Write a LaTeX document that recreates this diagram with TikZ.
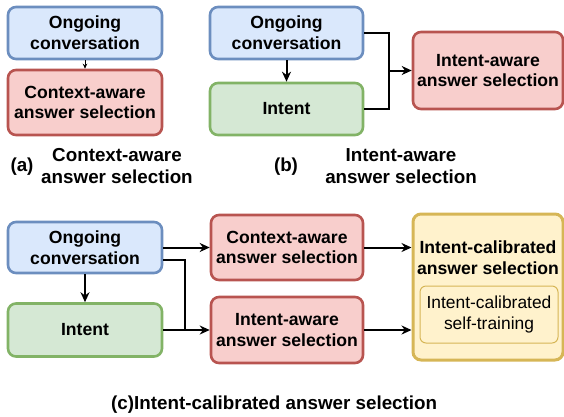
\documentclass[tikz,border=0pt]{standalone}
\usepackage{fontspec}
\setmainfont{Liberation Sans}
\usetikzlibrary{arrows.meta}
\definecolor{bfill}{HTML}{DAE8FC}\definecolor{bdraw}{HTML}{6C8EBF}
\definecolor{rfill}{HTML}{F8CECC}\definecolor{rdraw}{HTML}{B85450}
\definecolor{gfill}{HTML}{D5E8D4}\definecolor{gdraw}{HTML}{82B366}
\definecolor{yfill}{HTML}{FFF2CC}\definecolor{ydraw}{HTML}{D6B656}
\begin{document}
\begin{tikzpicture}[x=1pt,y=-1pt,
  box/.style={rounded corners=8pt,line width=2.6pt,align=center,inner sep=0pt,
    font=\fontsize{17.6}{20.8}\selectfont\bfseries},
  bluebox/.style={box,fill=bfill,draw=bdraw},
  redbox/.style={box,fill=rfill,draw=rdraw},
  greenbox/.style={box,fill=gfill,draw=gdraw},
  yellowbox/.style={box,fill=yfill,draw=ydraw,line width=3pt},
  innerbox/.style={rounded corners=6pt,line width=1pt,fill=yfill,draw=ydraw,align=center,
    inner sep=0pt,font=\fontsize{17.4}{20.5}\selectfont},
  captxt/.style={align=center,inner sep=0pt,font=\fontsize{18.8}{22.5}\selectfont\bfseries},
  arr/.style={line width=2pt,-{Stealth[length=10pt,width=9pt]}},
  ln/.style={line width=2pt},
  sarr/.style={line width=1pt,-{Stealth[length=5pt,width=4.5pt]}}]
\useasboundingbox (0,0) rectangle (564,416);
% (a)
\node[bluebox,minimum width=154pt,minimum height=52pt] (a1) at (85,33) {Ongoing\\conversation};
\node[redbox,minimum width=154pt,minimum height=65pt] (a2) at (85,102.5) {Context-aware\\answer selection};
\draw[sarr] (a1) -- (a2);
\node[captxt] (al) at (22,167) {(a)};
\node[captxt] (at) at (117,166) {Context-aware\\answer selection};
% (b)
\node[bluebox,minimum width=153pt,minimum height=52pt] (b1) at (286.5,33) {Ongoing\\conversation};
\node[greenbox,minimum width=153pt,minimum height=52pt] (b2) at (286.5,109) {Intent};
\node[redbox,minimum width=150pt,minimum height=77pt] (b3) at (488,70.5) {Intent-aware\\answer selection};
\coordinate (bj) at (389,70.5);
\draw[arr] (b1) -- (b2);
\draw[ln] (b1.east) -| (bj) |- (b2.east);
\draw[arr] (bj) -- (b3.west);
\node[captxt] (bl) at (286,167) {(b)};
\node[captxt] (bt) at (401,166) {Intent-aware\\answer selection};
% (c)
\node[bluebox,minimum width=154pt,minimum height=51pt] (c1) at (85,247.5) {Ongoing\\conversation};
\node[greenbox,minimum width=154pt,minimum height=53pt] (c2) at (85,330) {Intent};
\node[redbox,minimum width=152pt,minimum height=65pt] (c3) at (287,247.5) {Context-aware\\answer selection};
\node[redbox,minimum width=152pt,minimum height=66pt] (c4) at (287,330) {Intent-aware\\answer selection};
\node[yellowbox,minimum width=150pt,minimum height=146pt] (c5) at (488,287) {};
\node[box] (c5t) at (488,258) {Intent-calibrated\\answer selection};
\node[innerbox,minimum width=138pt,minimum height=57pt] (c6) at (489,314.5) {Intent-calibrated\\self-training};
\coordinate (j1) at (185,260);
\coordinate (j2) at (185,330);
\draw[arr] (c1) -- (c2);
\draw[arr] (c1.east) -- (c3.west);
\draw[ln] (j1 -| c1.east) -- (j1) -- (j2);
\draw[arr] (c2.east) -- (c4.west);
\draw[arr] (c3.east) -- (c3.east -| c5.west);
\draw[arr] (c4.east) -- (c4.east -| c5.west);
\node[captxt,anchor=west] (ct) at (111,405) {(c)Intent-calibrated answer selection};
\end{tikzpicture}
\end{document}
